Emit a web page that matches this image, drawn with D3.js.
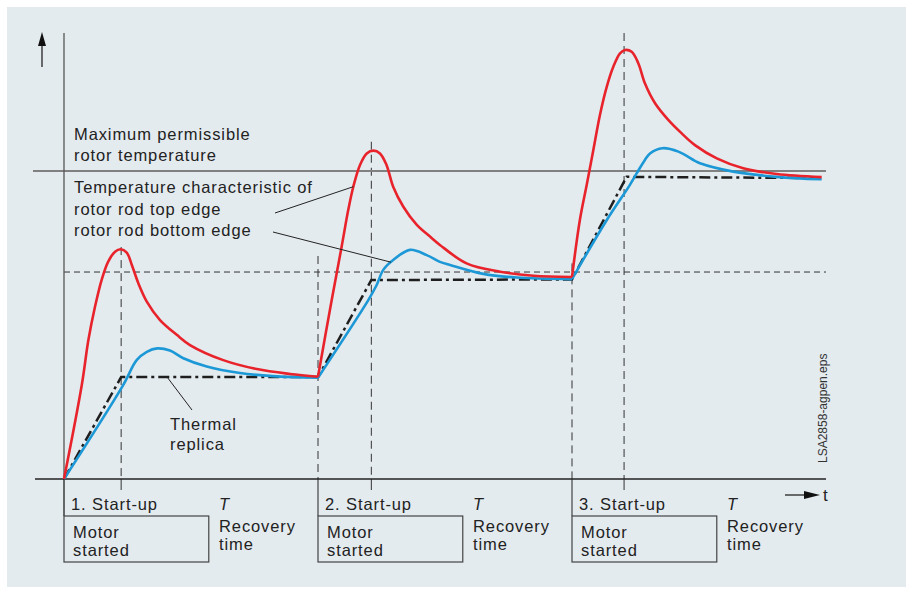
<!DOCTYPE html>
<html>
<head>
<meta charset="utf-8">
<script src="https://cdn.jsdelivr.net/npm/d3@7"></script>
<style>
  body { margin: 0; background: #fff; }
  text { font-family: "Liberation Sans", Arial, sans-serif; fill: #222; }
</style>
</head>
<body>
<div id="chart"></div>
<script>
// time of each motor start and end of its start-up phase
const runStarts = [0, 10, 20];
const runEnds = [2.25, 12.1, 22.05];
const runLabels = ['1. Start-up', '2. Start-up', '3. Start-up'];

// temperature levels (max permissible = 100)
const maxTemp = 100;
const warnTemp = 67.2;

// rotor rod top edge [t, temperature]
const redTop = [
  [0, 0], [0.7, 30.5], [0.96, 45.1], [1.22, 55.9], [1.48, 64.6], [1.74, 70.6], [2.01, 73.8],
  [2.23, 74.6], [2.47, 73.5], [2.67, 69.5], [2.93, 63.5], [3.26, 57.6], [3.78, 51.6],
  [4.44, 46.8], [4.96, 43.5], [6.27, 38.6], [7.59, 35.7], [8.9, 34.1],
  [10, 33.2], [10.54, 58.1], [10.93, 75.4], [11.19, 87.3], [11.39, 94.9], [11.65, 101.9],
  [11.92, 105.7], [12.18, 106.6], [12.44, 105.7], [12.7, 101.9], [12.96, 94.9], [13.36, 88.4],
  [13.89, 82.5], [14.41, 78.7], [14.8, 76.0], [15.85, 70.0], [17.17, 67.3], [18.48, 66.0],
  [20, 65.6], [20.31, 84.1], [20.58, 95.5], [20.84, 106.8], [21.1, 118.2], [21.37, 127.4],
  [21.63, 133.9], [21.89, 138.2], [22.09, 139.3], [22.35, 138.7], [22.61, 135.0], [22.87, 128.5],
  [23.27, 122.0], [23.79, 116.6], [24.32, 112.2], [24.84, 108.4], [25.7, 104.1], [26.74, 100.9],
  [28.06, 99.0], [29.83, 98.0]
];

// rotor rod bottom edge
const blueBottom = [
  [0, 0], [2.33, 30.5], [2.86, 38.6], [3.26, 41.3], [3.67, 42.4], [4.17, 41.7], [4.7, 39.2],
  [5.62, 36.5], [6.93, 34.4], [8.23, 33.4],
  [10, 32.9], [11.98, 58.1], [12.31, 63.0], [12.57, 67.9], [12.96, 71.1], [13.62, 74.4],
  [14.28, 72.7], [14.8, 70.5], [15.2, 69.5], [16.51, 66.6], [17.82, 65.4],
  [20, 64.9], [21.37, 84.1], [22.28, 95.5], [22.55, 99.3], [22.87, 103.6], [23.07, 105.7],
  [23.56, 107.4], [24.19, 106.3], [24.84, 103.3], [25.04, 102.5], [26.35, 99.8], [28.06, 98.1],
  [29.83, 97.3]
];

// thermal replica
const replica = [
  [0, 0], [2.25, 33.1], [10, 33.1], [12.1, 64.6], [20, 64.8], [22.15, 98.1], [29.83, 97.7]
];

const width = 908;
const height = 589;

const x = d3.scaleLinear().domain([0, 30]).range([64, 826]);
const y = d3.scaleLinear().domain([0, maxTemp]).range([479, 171]);

const svg = d3.select('#chart').append('svg')
  .attr('width', width)
  .attr('height', height);

svg.append('rect')
  .attr('x', 7).attr('y', 7)
  .attr('width', 899).attr('height', 580)
  .attr('fill', '#e4ebef');

// guide line tops (dashed verticals)
const startTops = [null, 72.4, 70];
const endTops = [75.3, 109.5, 144.8];

// dashed threshold line
svg.append('line')
  .attr('x1', x(0)).attr('x2', x(30))
  .attr('y1', y(warnTemp)).attr('y2', y(warnTemp))
  .attr('stroke', '#333').attr('stroke-width', 1)
  .attr('stroke-dasharray', '6,4');

// dashed verticals
runStarts.forEach((s, i) => {
  if (startTops[i] !== null) {
    svg.append('line')
      .attr('x1', x(s)).attr('x2', x(s))
      .attr('y1', y(startTops[i])).attr('y2', y(0))
      .attr('stroke', '#333').attr('stroke-width', 1)
      .attr('stroke-dasharray', '8,5');
  }
  svg.append('line')
    .attr('x1', x(runEnds[i])).attr('x2', x(runEnds[i]))
    .attr('y1', y(endTops[i])).attr('y2', y(0))
    .attr('stroke', '#333').attr('stroke-width', 1)
    .attr('stroke-dasharray', '8,5');
  // ticks below axis
  svg.append('line')
    .attr('x1', x(runEnds[i])).attr('x2', x(runEnds[i]))
    .attr('y1', y(0)).attr('y2', y(0) + 11)
    .attr('stroke', '#333').attr('stroke-width', 1);
  svg.append('line')
    .attr('x1', x(s)).attr('x2', x(s))
    .attr('y1', y(0)).attr('y2', 516)
    .attr('stroke', '#444').attr('stroke-width', 1.2);
});

// max permissible line
svg.append('line')
  .attr('x1', 33).attr('x2', x(30))
  .attr('y1', y(maxTemp)).attr('y2', y(maxTemp))
  .attr('stroke', '#808080').attr('stroke-width', 2);

// axes
svg.append('line')
  .attr('x1', x(0)).attr('x2', x(0))
  .attr('y1', y(144.8)).attr('y2', 516)
  .attr('stroke', '#555').attr('stroke-width', 1.3);
svg.append('line')
  .attr('x1', 35).attr('x2', x(30))
  .attr('y1', y(0)).attr('y2', y(0))
  .attr('stroke', '#222').attr('stroke-width', 1.5);

// up arrow
svg.append('line')
  .attr('x1', 42).attr('x2', 42).attr('y1', 67).attr('y2', 42)
  .attr('stroke', '#222').attr('stroke-width', 1.3);
svg.append('path')
  .attr('d', 'M42,32 L46,46 L38,46 Z')
  .attr('fill', '#111');

// t arrow
svg.append('line')
  .attr('x1', 785).attr('x2', 806).attr('y1', 495).attr('y2', 495)
  .attr('stroke', '#222').attr('stroke-width', 1.3);
svg.append('path')
  .attr('d', 'M820,495 L804,491 L804,499 Z')
  .attr('fill', '#111');
svg.append('text')
  .attr('x', 823).attr('y', 501)
  .style('font-size', '17px')
  .text('t');

// curves, split at each start
function segments(points) {
  return runStarts.map((s, i) => {
    const e = i < runStarts.length - 1 ? runStarts[i + 1] : Infinity;
    return points.filter(p => p[0] >= s && p[0] <= e);
  });
}

const smooth = d3.line()
  .x(d => x(d[0]))
  .y(d => y(d[1]))
  .curve(d3.curveCatmullRom.alpha(0.5));

svg.append('path')
  .datum(replica)
  .attr('d', d3.line().x(d => x(d[0])).y(d => y(d[1])))
  .attr('fill', 'none')
  .attr('stroke', '#1e1e1e')
  .attr('stroke-width', 2.5)
  .attr('stroke-dasharray', '11,4,3,4');

svg.selectAll('.blue')
  .data(segments(blueBottom))
  .enter().append('path')
  .attr('class', 'blue')
  .attr('d', smooth)
  .attr('fill', 'none')
  .attr('stroke', '#1c98d6')
  .attr('stroke-width', 2.6);

svg.selectAll('.red')
  .data(segments(redTop))
  .enter().append('path')
  .attr('class', 'red')
  .attr('d', smooth)
  .attr('fill', 'none')
  .attr('stroke', '#e8232b')
  .attr('stroke-width', 2.6);

// leader lines
const leaders = [
  [[275, 213], redTop[22]],
  [[273, 232], [12.87, 70.4]],
  [[192, 410], [4.06, 33.1]]
];
leaders.forEach(l => {
  svg.append('line')
    .attr('x1', l[0][0]).attr('y1', l[0][1])
    .attr('x2', x(l[1][0])).attr('y2', y(l[1][1]))
    .attr('stroke', '#222').attr('stroke-width', 1);
});

// labels
function block(px, py, lines, lh) {
  const t = svg.append('text')
    .attr('x', px).attr('y', py)
    .style('font-size', '16.5px')
    .style('letter-spacing', '0.9px');
  lines.forEach((s, i) => {
    t.append('tspan').attr('x', px).attr('dy', i ? lh : 0).text(s);
  });
  return t;
}

block(74, 140, ['Maximum permissible', 'rotor temperature'], 21);
block(74, 193, ['Temperature characteristic of', 'rotor rod top edge', 'rotor rod bottom edge'], 21.5);
block(170, 430, ['Thermal', 'replica'], 20);

runStarts.forEach((s, i) => {
  const x0 = x(s);
  block(x0 + 7, 510, [runLabels[i]], 0);
  svg.append('rect')
    .attr('x', x0).attr('y', 516)
    .attr('width', x(s + 5.7) - x0).attr('height', 46)
    .attr('fill', 'none')
    .attr('stroke', '#444').attr('stroke-width', 1.2);
  block(x0 + 9, 538, ['Motor', 'started'], 18);
  block(x0 + 155, 510, ['T'], 0).style('font-style', 'italic');
  block(x0 + 155, 532, ['Recovery', 'time'], 17.5);
});

svg.append('text')
  .attr('transform', 'translate(827,463) rotate(-90)')
  .style('font-size', '12px')
  .style('fill', '#333')
  .text('LSA2858-agpen.eps');
</script>
</body>
</html>
